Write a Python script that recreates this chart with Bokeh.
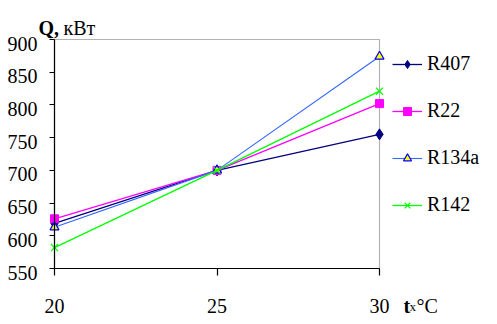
from bokeh.plotting import figure
from bokeh.models import Range1d, Legend, LegendItem, Label, FixedTicker, BoxAnnotation
from bokeh.embed import file_html
from bokeh.resources import INLINE

x = [20, 25, 30]
r407 = [619, 700, 755]
r22 = [626, 700, 802]
r134a = [613, 700, 874]
r142 = [582, 700, 821]
y_ticks = [550, 600, 650, 700, 750, 800, 850, 900]
x_ticks = [20, 25, 30]

FONT = "Liberation Serif"

# layout: the frame covers (almost) the whole canvas so that all texts lie inside it
mbl, mbt, mbr, mbb = 6, 6, 4, 8
fw, fh = 480, 307
W, H = mbl + fw + mbr, mbt + fh + mbb
FL, FT = mbl + 1, mbt + 1
FB = FT + fh
kx = 32.5            # px per x unit
ky = 229 / 350       # px per y unit
x_start = x_ticks[0] - (55 - FL) / kx
x_end = x_start + fw / kx
y_start = y_ticks[0] - (FB - 269) / ky
y_end = y_start + fh / ky

p = figure(width=W, height=H, output_backend="svg", toolbar_location=None,
           x_range=Range1d(x_start, x_end), y_range=Range1d(y_start, y_end),
           min_border_left=mbl, min_border_top=mbt, min_border_right=mbr, min_border_bottom=mbb)
p.frame_width = fw
p.frame_height = fh
p.xgrid.visible = False
p.ygrid.visible = False
p.outline_line_color = None
p.background_fill_color = "white"
p.border_fill_color = "white"

for ax in (p.xaxis[0], p.yaxis[0]):
    ax.axis_line_color = "black"
    ax.axis_line_width = 1.2
    ax.major_tick_line_color = "black"
    ax.major_tick_line_width = 1.2
    ax.minor_tick_line_color = None
    ax.major_tick_in = 0
    ax.major_label_text_font_size = "0px"
    ax.major_label_text_color = None
    ax.major_label_standoff = 0

p.yaxis.ticker = FixedTicker(ticks=y_ticks)
p.yaxis.major_tick_out = 5
p.yaxis.fixed_location = x_ticks[0]
p.yaxis.bounds = (y_ticks[0], y_ticks[-1])
p.xaxis.ticker = FixedTicker(ticks=x_ticks)
p.xaxis.major_tick_out = 7
p.xaxis.fixed_location = y_ticks[0]
p.xaxis.bounds = (x_ticks[0], x_ticks[-1])

box = BoxAnnotation(left=x_ticks[0], right=x_ticks[-1], bottom=y_ticks[0], top=y_ticks[-1],
                    fill_alpha=0, line_color="black", line_width=1.2, level="underlay")
p.add_layout(box)

l1 = p.line(x, r407, line_color="#000080", line_width=1.3)
m1 = p.scatter(x, r407, marker="diamond", size=11, fill_color="#000080", line_color="#000080")
l2 = p.line(x, r22, line_color="#FF00FF", line_width=1.3)
m2 = p.scatter(x, r22, marker="square", size=8, fill_color="#FF00FF", line_color="#FF00FF")
l3 = p.line(x, r134a, line_color="#3366FF", line_width=1.1)
m3 = p.scatter(x, r134a, marker="triangle", size=9, fill_color="#FFFF00", line_color="#0000FF", line_width=1.2)
l4 = p.line(x, r142, line_color="#00FF00", line_width=1.3)
m4 = p.scatter(x, r142, marker="x", size=10, line_color="#00FF00", line_width=1.2)

legend = Legend(items=[
    LegendItem(label="R407", renderers=[l1, m1]),
    LegendItem(label="R22", renderers=[l2, m2]),
    LegendItem(label="R134a", renderers=[l3, m3]),
    LegendItem(label="R142", renderers=[l4, m4]),
], location=(393 - FL, FB - 217))
legend.label_text_font = FONT
legend.label_text_font_size = "20px"
legend.label_text_color = "black"
legend.glyph_width = 30
legend.glyph_height = 20
legend.label_height = 20
legend.spacing = 24
legend.label_standoff = 5
legend.padding = 10
legend.margin = 0
legend.border_line_color = None
legend.background_fill_alpha = 0
p.add_layout(legend)

txt = dict(text_font=FONT, text_color="black", text_baseline="alphabetic")

# tick labels, placed through the plot's scales at the tick values
for v in y_ticks:
    p.add_layout(Label(x=x_ticks[0], y=v, text=str(v), x_offset=-17, y_offset=-4,
                       text_align="right", text_font_size="20px", **txt))
for v in x_ticks:
    p.add_layout(Label(x=v, y=y_ticks[0], text=str(v), y_offset=-37,
                       text_align="center", text_font_size="20px", **txt))

# axis titles
p.add_layout(Label(x=x_ticks[0], y=y_ticks[-1], x_offset=-16, y_offset=12, text="Q,",
                   text_font_size="20px", text_font_style="bold", **txt))
p.add_layout(Label(x=x_ticks[0], y=y_ticks[-1], x_offset=9, y_offset=12, text="кВт",
                   text_font_size="20px", **txt))
p.add_layout(Label(x=x_ticks[-1], y=y_ticks[0], x_offset=24, y_offset=-37, text="t",
                   text_font_size="20px", text_font_style="bold", **txt))
p.add_layout(Label(x=x_ticks[-1], y=y_ticks[0], x_offset=30, y_offset=-38, text="x",
                   text_font_size="13px", **txt))
p.add_layout(Label(x=x_ticks[-1], y=y_ticks[0], x_offset=37, y_offset=-37, text="°C",
                   text_font_size="20px", **txt))

open("out.html", "w").write(file_html(p, INLINE))
